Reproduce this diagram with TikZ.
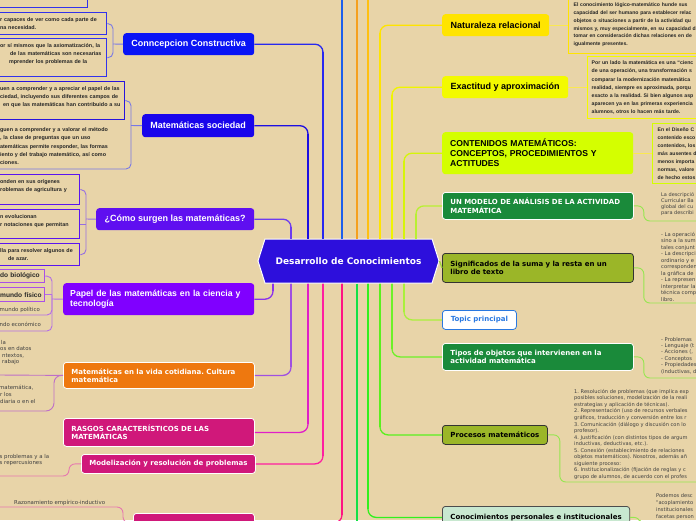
\documentclass[tikz,border=0pt]{standalone}
\usepackage{fontspec}
\setmainfont{Liberation Sans}
\newfontfamily\verd{DejaVu Sans}
\usetikzlibrary{shapes.symbols}
\frenchspacing

\definecolor{bg}{RGB}{232,212,168}
\definecolor{cRoot}{RGB}{45,15,220}
\definecolor{cBlue}{RGB}{10,20,245}
\definecolor{cBlueB}{RGB}{25,5,235}
\definecolor{cViol}{RGB}{95,15,240}
\definecolor{cViolB}{RGB}{128,0,255}
\definecolor{cOrange}{RGB}{238,120,15}
\definecolor{cMag}{RGB}{208,24,122}
\definecolor{cYel}{RGB}{255,228,0}
\definecolor{cYelB}{RGB}{243,250,0}
\definecolor{cLime}{RGB}{212,255,0}
\definecolor{cGreen}{RGB}{26,138,58}
\definecolor{cOlive}{RGB}{155,182,40}
\definecolor{cMint}{RGB}{200,232,208}
\definecolor{cTopic}{RGB}{40,120,225}
% trunk colours
\definecolor{lBlueA}{RGB}{40,40,240}
\definecolor{lBlueB}{RGB}{30,15,225}
\definecolor{lBlueC}{RGB}{30,95,235}
\definecolor{lViolA}{RGB}{110,60,240}
\definecolor{lViolB}{RGB}{140,50,235}
\definecolor{lViolC}{RGB}{160,80,225}
\definecolor{lOrange}{RGB}{245,160,30}
\definecolor{lAmber}{RGB}{255,192,16}
\definecolor{lYelA}{RGB}{255,228,0}
\definecolor{lYelB}{RGB}{240,245,0}
\definecolor{lLimeA}{RGB}{214,245,10}
\definecolor{lLimeB}{RGB}{185,240,50}
\definecolor{lLimeC}{RGB}{160,215,60}
\definecolor{lMagA}{RGB}{225,30,200}
\definecolor{lPinkA}{RGB}{255,30,160}
\definecolor{lPinkB}{RGB}{255,20,130}
\definecolor{lGreenA}{RGB}{20,225,70}
\definecolor{lGreenB}{RGB}{50,240,30}
\definecolor{lGreenC}{RGB}{90,240,30}
\definecolor{lGreenD}{RGB}{110,240,40}
\definecolor{lGreenE}{RGB}{170,240,60}
% box and twig colours
\definecolor{bBlue}{RGB}{50,50,235}
\definecolor{bBlueB}{RGB}{40,20,220}
\definecolor{bViol}{RGB}{90,20,240}
\definecolor{bViolB}{RGB}{170,80,230}
\definecolor{tBlue}{RGB}{120,120,230}
\definecolor{tViol}{RGB}{150,110,225}
\definecolor{tViolB}{RGB}{180,110,230}
\definecolor{tPurp}{RGB}{190,110,200}
\definecolor{tPink}{RGB}{230,120,175}
\definecolor{tYel}{RGB}{250,232,80}
\definecolor{tGreen}{RGB}{150,230,80}

\begin{document}
\begin{tikzpicture}[x=1pt,y=-1pt]
  \tikzstyle{topic}=[rounded corners=3pt,inner xsep=8pt,inner ysep=1pt,align=left,text=white,anchor=north west,font=\bfseries\fontsize{9}{10.3}\selectfont]
  \tikzstyle{vtopic}=[topic,draw=white,line width=0.8pt,font=\verd\bfseries\fontsize{7}{8.6}\selectfont]
  \tikzstyle{textbox}=[draw,line width=1.3pt,inner xsep=1.5pt,inner ysep=0pt,align=left,anchor=north west,text=black!85,font=\bfseries\fontsize{5.4}{8}\selectfont]
  \tikzstyle{note}=[inner sep=0pt,align=left,anchor=north west,text=black!75,font=\verd\fontsize{5.2}{6.5}\selectfont]
  \tikzstyle{branch}=[line width=1.3pt,rounded corners=8pt]
  \tikzstyle{stem}=[line width=2.6pt,shorten >=8pt]
  \tikzstyle{twig}=[line width=0.9pt,rounded corners=5pt]

  \useasboundingbox (0,0) rectangle (696,520);
  \clip (0,0) rectangle (696,520);
  \fill[bg] (0,0) rectangle (696,520);

  \foreach \x in {273,291,308,323,342,357,368,380,392,404,416}
    \coordinate (k\x) at (\x,0);

  % centre
  \node [signal, signal to=east and west, signal pointer angle=145, fill=cRoot, draw=white, line width=1pt,
         minimum width=181, minimum height=44, inner sep=0pt, text=white,
         font=\verd\bfseries\fontsize{9}{10}\selectfont] (root) at (348.5,261) {Desarrollo de Conocimientos};

  % left topics
  \node [topic, fill=cBlue, minimum width=131, minimum height=22] (cc) at (123,33) {Conncepcion Constructiva};
  \node [topic, fill=cBlueB, minimum width=112, minimum height=23] (ms) at (142,114) {Matemáticas sociedad};
  \node [topic, fill=cViol, minimum width=158, minimum height=22] (cs) at (96,208) {¿Cómo surgen las matemáticas?};
  \node [topic, fill=cViolB, inner xsep=7pt, text width=177, minimum height=32, font=\bfseries\fontsize{8.7}{10}\selectfont] (pm) at (63,283) {Papel de las matemáticas en la ciencia y\\tecnología};
  \node [vtopic, fill=cOrange, text width=175, minimum height=26, font=\verd\bfseries\fontsize{7}{8}\selectfont] (vc) at (63,362) {Matemáticas en la vida cotidiana. Cultura\\matemática};
  \node [vtopic, fill=cMag, text width=175, minimum height=28] (rc) at (63,418) {RASGOS CARACTERÍSTICOS DE LAS\\MATEMÁTICAS};
  \node [vtopic, fill=cMag, minimum width=173, minimum height=19] (mr) at (81,454) {Modelización y resolución de problemas};
  \node [vtopic, fill=cMag, minimum width=121, minimum height=19] (bn) at (133,513) {};

  % right topics
  \node [topic, fill=cYel, text=black, minimum width=107, minimum height=22] (nr) at (442,14) {Naturaleza relacional};
  \node [topic, fill=cYelB, text=black, minimum width=126, minimum height=22] (ea) at (442,76) {Exactitud y aproximación};
  \node [topic, fill=cLime, text=black, text width=175, minimum height=42, font=\bfseries\fontsize{8.6}{10}\selectfont] (cm) at (442,132) {CONTENIDOS MATEMÁTICOS:\\CONCEPTOS, PROCEDIMIENTOS Y\\ACTITUDES};
  \node [vtopic, fill=cGreen, text width=175, minimum height=27] (um) at (442,192) {UN MODELO DE ANÁLISIS DE LA ACTIVIDAD\\MATEMÁTICA};
  \node [vtopic, fill=cOlive, draw=black!80, text=black, text width=175, minimum height=29] (sg) at (442,253) {Significados de la suma y la resta en un\\libro de texto};
  \node [vtopic, fill=white, draw=cTopic, text=cTopic, minimum width=74, minimum height=19] (tp) at (442,310) {Topic principal};
  \node [vtopic, fill=cGreen, text width=175, minimum height=27] (to) at (442,343) {Tipos de objetos que intervienen en la\\actividad matemática};
  \node [vtopic, fill=cOlive, draw=black!80, text=black, minimum width=105, minimum height=19] (pr) at (442,425) {Procesos matemáticos};
  \node [vtopic, fill=cMint, draw=black!70, text=black, minimum width=186, minimum height=22] (cp) at (442,506) {Conocimientos personales e institucionales};

  % trunks: thin bend plus thick stem out of the centre
  \foreach \k/\n/\a/\c/\s in {323/cc/east/lBlueA/north, 308/ms/east/lBlueB/north, 291/cs/east/lViolA/north,
      380/nr/west/lYelA/north, 392/ea/west/lYelB/north, 404/cm/west/lLimeA/north, 416/um/west/lLimeB/north,
      273/pm/east/lViolB/south, 291/vc/east/lViolC/south, 308/rc/east/lMagA/south, 323/mr/east/lPinkA/south,
      342/bn/east/lPinkB/south, 368/cp/west/lGreenB/south, 380/pr/west/lGreenC/south,
      392/to/west/lGreenD/south, 404/tp/west/lGreenE/south} {
    \draw[branch, \c] (root.\s -| k\k) |- (\n.\a);
    \draw[stem, \c] (root.\s -| k\k) -- (\n.\a -| k\k);
  }
  \draw[stem, lBlueC, shorten >=0pt] (root.north -| k342) -- (k342);
  \draw[stem, lOrange, shorten >=0pt] (root.north -| k357) -- (k357);
  \draw[stem, lAmber, shorten >=0pt] (root.north -| k368) -- (k368);
  \draw[stem, lGreenA, shorten >=0pt] (root.south -| k357) -- ++(0,260);
  \draw[branch, lLimeC] (root.east) -- (sg.west);

  % left leaves
  \node [textbox, draw=bBlue, text width=86, minimum height=27] (lb0) at (-2,-20) {};
  \node [textbox, draw=bBlue, text width=105, minimum height=22] (lb1) at (-2,12) {r capaces de ver como cada parte de\\na necesidad.};
  \node [textbox, draw=bBlue, text width=105, minimum height=38] (lb2) at (-2,38) {or sí mismos que la axiomatización, la\\\hspace*{10pt}de las matemáticas son necesarias\\\hspace*{9pt}mprender los problemas de la\\\mbox{}};
  \node [textbox, draw=bBlueB, text width=123, minimum height=38] (lb3) at (-2,81) {uen a comprender y a apreciar el papel de las\\ciedad, incluyendo sus diferentes campos de\\\hspace*{3pt}en que las matemáticas han contribuido a su\\\mbox{}};
  \node [textbox, draw=none, text width=130, font=\bfseries\fontsize{5.4}{8.3}\selectfont] (lt4) at (-2,127) {guen a comprender y a valorar el método\\, la clase de preguntas que un uso\\atemáticas permite responder, las formas\\iento y del trabajo matemático, así como\\ciones.};
  \node [textbox, draw=bViol, text width=78, minimum height=30] (lb5) at (-2,174) {onden en sus orígenes\\roblemas de agricultura y\\\mbox{}};
  \node [textbox, draw=bViol, text width=78, minimum height=29] (lb6) at (-2,209) {n evolucionan\\r notaciones que permitan\\\mbox{}};
  \node [textbox, draw=bViol, text width=78, minimum height=22] (lb7) at (-2,243) {lla para resolver algunos de\\\hspace*{8pt}de azar.};
  \node [textbox, draw=bViolB, text width=43, minimum height=13, font=\bfseries\fontsize{6.6}{8}\selectfont] (pb1) at (-2,269) {do biológico};
  \node [textbox, draw=bViolB, text width=43, minimum height=14, font=\bfseries\fontsize{6.6}{8}\selectfont] (pb2) at (-2,287) {mundo físico};
  \node [note, font=\verd\fontsize{5.4}{6.5}\selectfont] (pt3) at (-0.5,307) {mundo político};
  \node [note, font=\verd\fontsize{5.4}{6.5}\selectfont] (pt4) at (-0.5,322) {ndo económico};
  \node [note, font=\verd\fontsize{5.4}{6.5}\selectfont] (vt1) at (0,340) {\hspace*{1pt}la\\os en datos\\\hspace*{2pt}ntextos,\\\hspace*{2pt}rabajo};
  \node [note, font=\verd\fontsize{5.4}{7}\selectfont] (vt2) at (-1,385) {matemática,\\\hspace*{1pt}r los\\\hspace*{1pt}diaria o en el};
  \node [note, font=\verd\fontsize{5.4}{6.5}\selectfont] (mt) at (-0.5,454) {s problemas y a la\\s repercusiones};
  \node [note, font=\verd\fontsize{5.4}{6.5}\selectfont] (rz) at (14,500) {Razonamiento empírico-inductivo};

  % right leaves
  \node [textbox, draw=cYel, text width=200, inner xsep=5pt, minimum height=62, font=\bfseries\fontsize{5.1}{7.9}\selectfont] (bx1) at (568,-9) {\mbox{}\\El conocimiento lógico-matemático hunde sus\\capacidad del ser humano para establecer relac\\objetos o situaciones a partir de la actividad qu\\mismos y, muy especialmente, en su capacidad d\\tomar en consideración dichas relaciones en de\\igualmente presentes.};
  \node [textbox, draw=cYelB, text width=200, inner xsep=4pt, minimum height=62, font=\bfseries\fontsize{5.2}{8.1}\selectfont] (bx2) at (587,56) {Por un lado la matemática es una “cienc\\de una operación, una transformación s\\comparar la modernización matemática\\realidad, siempre es aproximada, porqu\\exacto a la realidad. Si bien algunos asp\\aparecen ya en las primeras experiencia\\alumnos, otros lo hacen más tarde.};
  \node [textbox, draw=cLime, text width=200, inner xsep=5pt, minimum height=60, font=\bfseries\fontsize{5.1}{8.1}\selectfont] (bx3) at (652,123) {En el Diseño C\\contenido esco\\contenidos, los\\más ausentes d\\menos importa\\normas, valore\\de hecho estos};
  \node [note, font=\verd\fontsize{5}{6}\selectfont] (ut) at (661,192) {La descripció\\Curricular Ba\\global del cu\\para describi};
  \node [note] (st) at (661,232) {- La operació\\sino a la sum\\tales conjunt\\- La descripci\\ordinario y e\\corresponden\\la gráfica de\\- La represen\\interpretar la\\técnica comp\\libro.};
  \node [note, font=\verd\fontsize{5.2}{6.4}\selectfont] (tt) at (661,337) {- Problemas\\- Lenguaje (t\\- Acciones (,\\- Conceptos\\- Propiedades\\(inductivas, d};
  \node [note, font=\verd\fontsize{5.1}{6.55}\selectfont] (pt) at (574,389) {1. Resolución de problemas (que implica exp\\posibles soluciones, modelización de la reali\\estrategias y aplicación de técnicas).\\2. Representación (uso de recursos verbales\\gráficos, traducción y conversión entre los r\\3. Comunicación (diálogo y discusión con lo\\profesor).\\4. Justificación (con distintos tipos de argum\\inductivas, deductivas, etc.).\\5. Conexión (establecimiento de relaciones\\objetos matemáticos). Nosotros, además añ\\siguiente proceso:\\6. Institucionalización (fijación de reglas y c\\grupo de alumnos, de acuerdo con el profes};
  \node [note, font=\verd\fontsize{5.1}{7}\selectfont] (ct) at (656,493) {Podemos desc\\"acoplamiento\\institucionales\\facetas person};

  % free ends of underlines
  \coordinate (ccb) at (113,44);
  \coordinate (msb) at (131,125.5);
  \coordinate (csb) at (86,219);
  \coordinate (pmb) at (52,299);
  \coordinate (vcb) at (54,375);
  \coordinate (lt4u) at (-2,169);
  \coordinate (pt3u) at (-2,315);
  \coordinate (pt4u) at (-2,331);
  \coordinate (vt1u) at (-2,375);
  \coordinate (vt2u) at (-2,411);
  \coordinate (mtu) at (-2,476);
  \coordinate (rzu) at (-2,507);
  \coordinate (utu) at (700,221);
  \coordinate (stu) at (700,303);
  \coordinate (ttu) at (700,378);
  \coordinate (ptu) at (700,482);
  \coordinate (ctu) at (700,526);

  % twigs, left
  \draw[twig, tBlue] (cc.west) -- (ccb);
  \draw[twig, tBlue] (lb1.east) -| (ccb) |- (lb2.east);
  \draw[twig, tBlue] (ms.west) -- (msb);
  \draw[twig, tBlue] (lb3.east) -| (msb) |- (lt4u);
  \draw[twig, tViol] (cs.west) -- (csb);
  \draw[twig, tViol] (lb5.east) -| (csb) |- (lb7.east);
  \draw[twig, tViol] (lb6.east) -- (lb6.east -| csb);
  \draw[twig, tViolB] (pm.west) -- (pmb);
  \draw[twig, tViolB] (pb1.east) -| (pmb) |- (pt4u);
  \draw[twig, tViolB] (pb2.east) -- (pb2.east -| pmb);
  \draw[twig, tViolB] (pb2.east -| pmb) |- (pt3u);
  \draw[twig, tPurp] (vc.west) -- (vt1u);
  \draw[twig, tPurp, rounded corners=8pt] (vc.west) -- (vcb) |- (vt2u);
  \draw[twig, tPink, rounded corners=6pt] (mr.west) -- ++(-12,0) |- (mtu);
  \draw[twig, tPink, rounded corners=6pt] (bn.west) -- ++(-10,0) |- (rzu);

  % twigs, right
  \draw[twig, tYel] (nr.east) -- (nr.east -| bx1.west);
  \draw[twig, tYel] (ea.east) -- (ea.east -| bx2.west);
  \draw[twig, tYel] (cm.east) -- (cm.east -| bx3.west);
  \draw[twig, tGreen, rounded corners=6pt] (um.east) -- ++(10,0) |- (utu);
  \draw[twig, tGreen, rounded corners=6pt] (sg.east) -- ++(10,0) |- (stu);
  \draw[twig, tGreen, rounded corners=6pt] (to.east) -- ++(10,0) |- (ttu);
  \draw[twig, tGreen, rounded corners=6pt] (pr.east) -- ++(12,0) |- (ptu);
  \draw[twig, tGreen, rounded corners=6pt] (cp.east) -- ++(10,0) |- (ctu);
\end{tikzpicture}
\end{document}
